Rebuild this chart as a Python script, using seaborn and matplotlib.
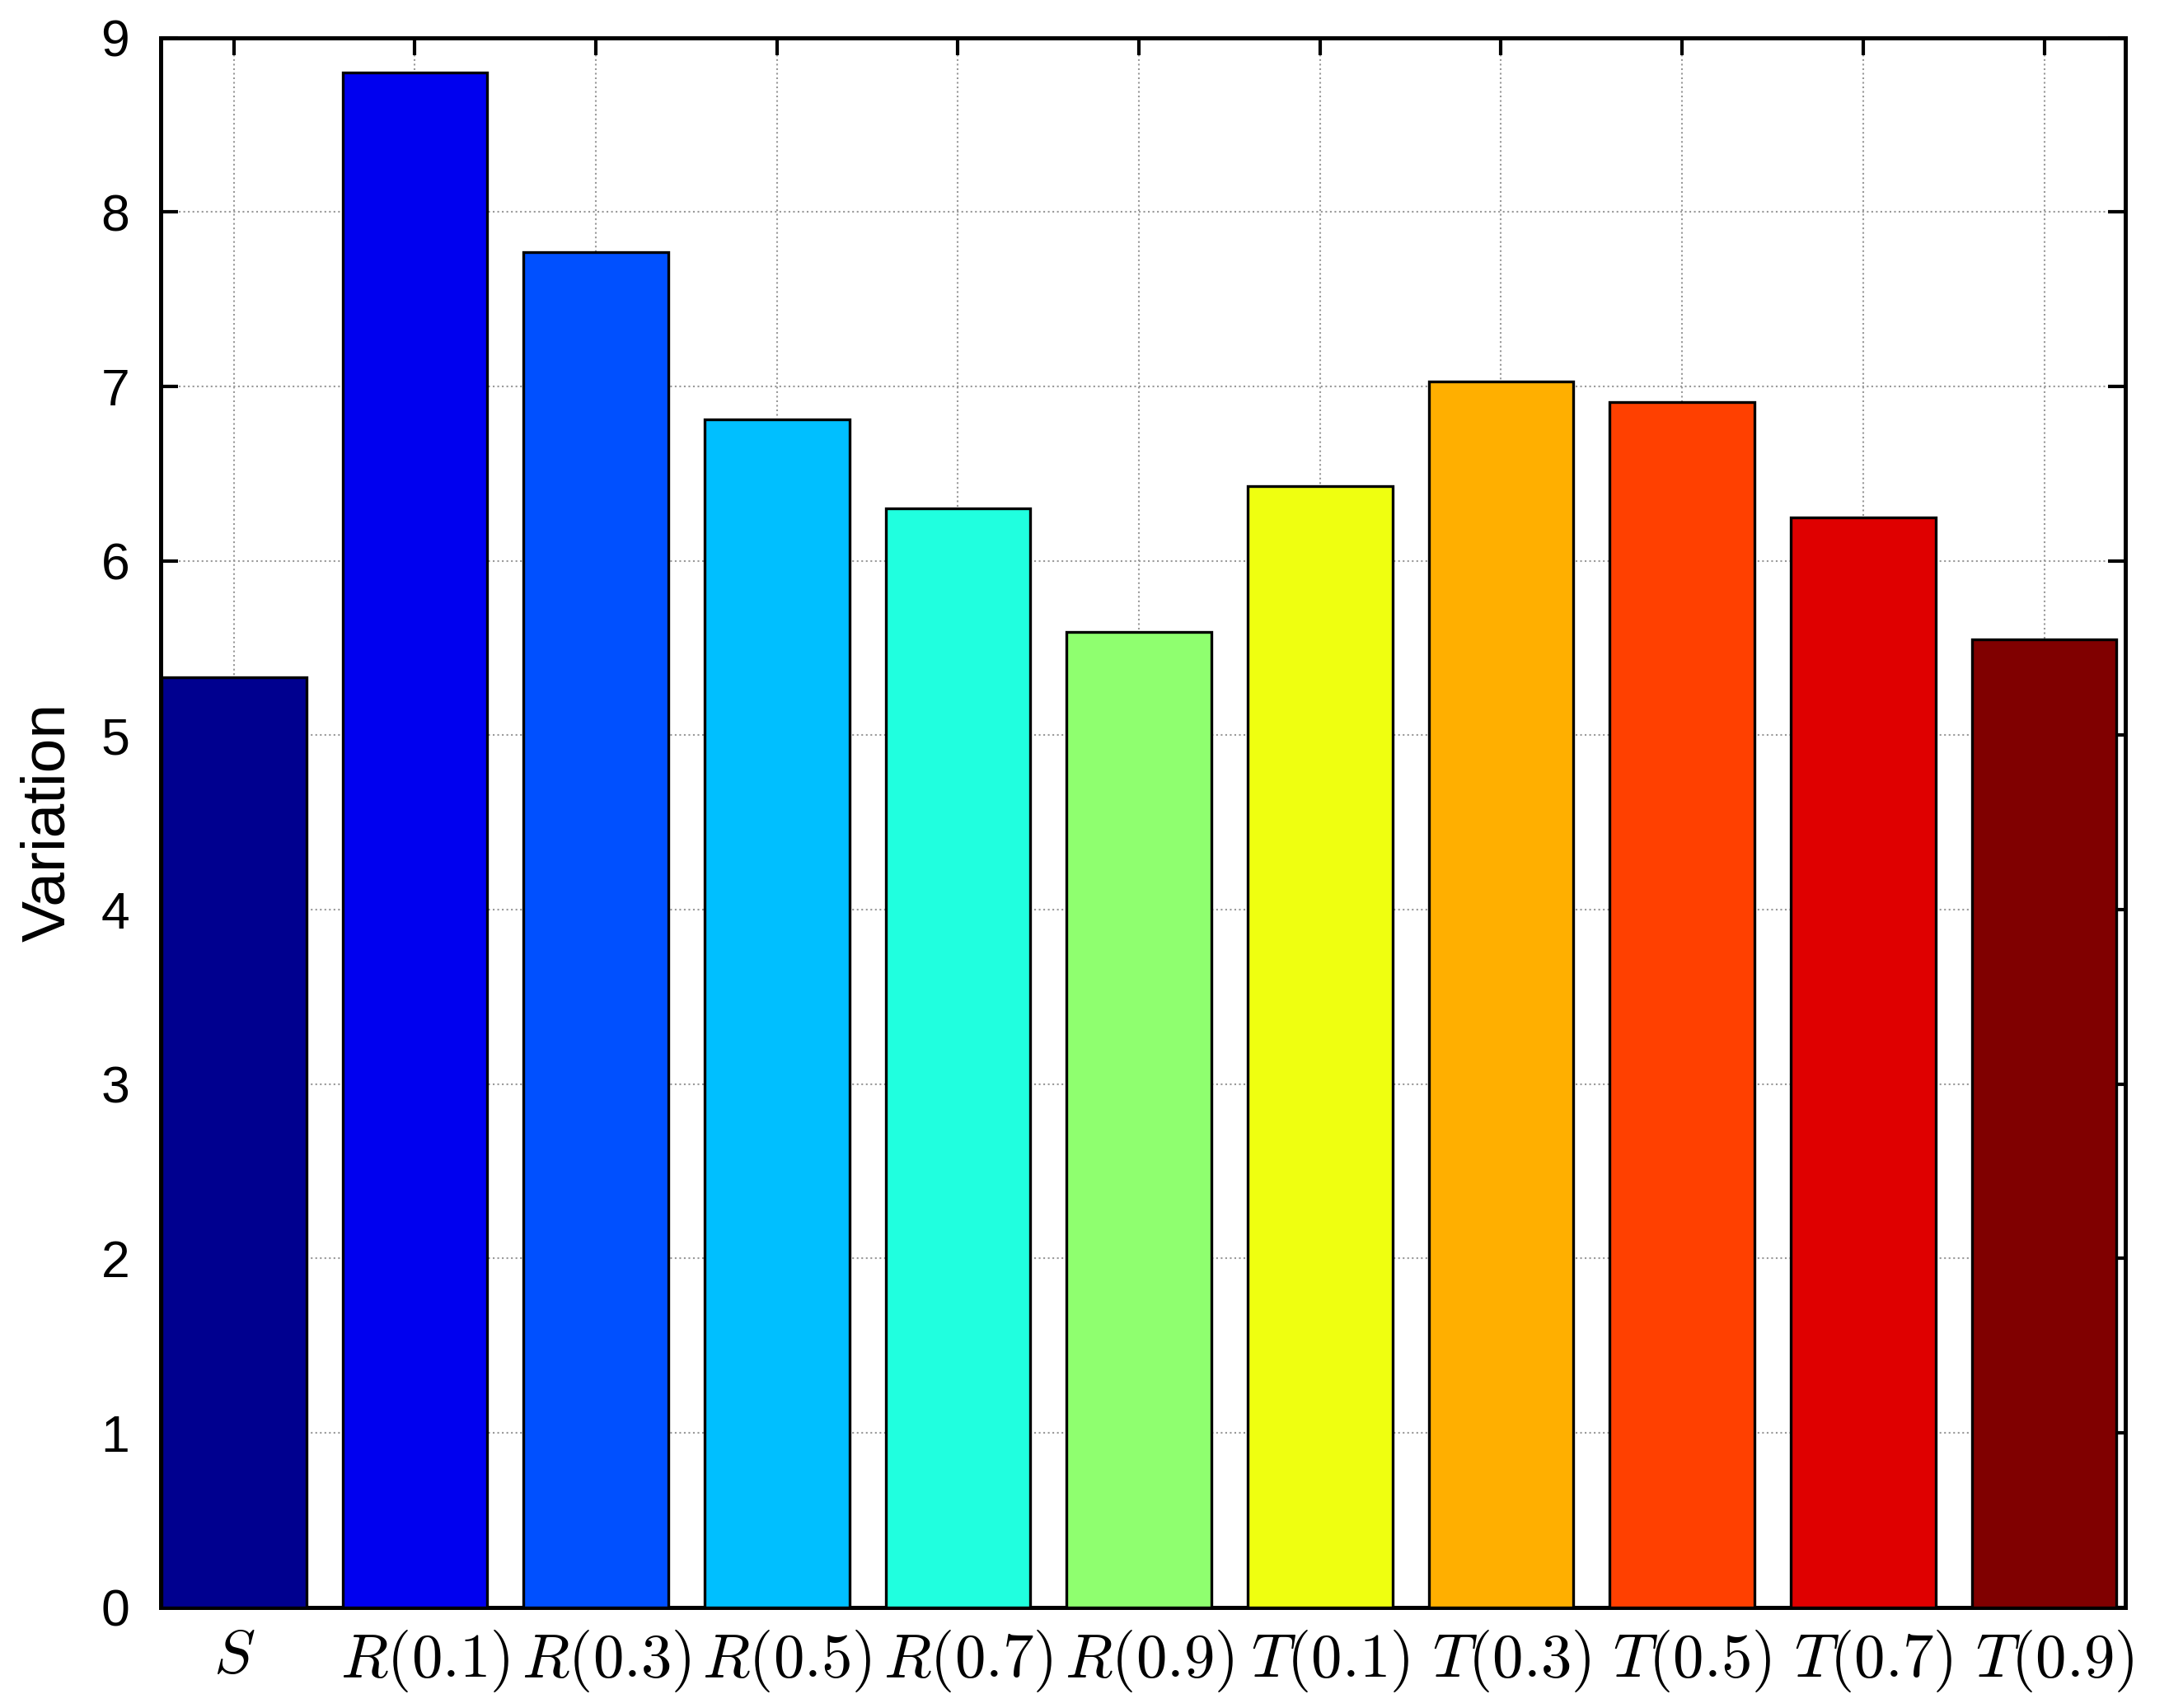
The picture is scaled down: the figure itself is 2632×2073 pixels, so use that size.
import numpy as np
import pandas as pd
import matplotlib
matplotlib.use("Agg")
import matplotlib.pyplot as plt
import matplotlib.transforms as mtransforms
import seaborn as sns

sns.set_style("ticks")
plt.rcParams['font.family'] = ['Liberation Sans', 'DejaVu Sans']
plt.rcParams['mathtext.fontset'] = 'cm'
plt.rcParams['text.color'] = 'black'
plt.rcParams['axes.labelcolor'] = 'black'
plt.rcParams['xtick.color'] = 'black'
plt.rcParams['ytick.color'] = 'black'
plt.rcParams['axes.edgecolor'] = 'black'

labels = ["$S$", "$R(0.1)$", "$R(0.3)$", "$R(0.5)$", "$R(0.7)$", "$R(0.9)$",
          "$T(0.1)$", "$T(0.3)$", "$T(0.5)$", "$T(0.7)$", "$T(0.9)$"]
variation = [5.33, 8.80, 7.77, 6.81, 6.30, 5.59, 6.43, 7.03, 6.91, 6.25, 5.55]
bar_colors = ["#00008F", "#0000EF", "#0050FF", "#00BFFF", "#20FFDF", "#8FFF6F",
              "#EFFF10", "#FFAF00", "#FF4000", "#DF0000", "#800000"]

df = pd.DataFrame({"method": labels, "Variation": variation})

fig = plt.figure(figsize=(2632/300, 2073/300), dpi=300)
ax = fig.add_axes([0.074, 0.059, 0.906, 0.919])

sns.barplot(data=df, x="method", y="Variation", hue="method", palette=bar_colors,
            saturation=1, width=0.8, edgecolor="black", linewidth=0.8,
            legend=False, ax=ax, zorder=3)

ax.set_xlim(-0.405, 10.45)
ax.set_ylim(0, 9)
ax.set_yticks(range(10))
ax.set_xlabel("")
ax.set_ylabel("Variation", fontsize=18, labelpad=7)
ax.grid(True, linestyle=":", color="#999999", linewidth=0.5, zorder=0)
ax.set_axisbelow(True)
ax.tick_params(axis="y", labelsize=15, direction="in", right=True, length=5, width=1, pad=9)
ax.tick_params(axis="x", labelsize=18, direction="in", top=True, length=5, width=1, pad=6)
for s in ax.spines.values():
    s.set_linewidth(1.2)
    s.set_visible(True)

# latex-style labels sit a little right of the bar centres in the original
shift = mtransforms.ScaledTranslation(3/72, 0, fig.dpi_scale_trans)
for lab in ax.get_xticklabels()[1:]:
    lab.set_transform(lab.get_transform() + shift)

fig.savefig("out.png", dpi=300)
